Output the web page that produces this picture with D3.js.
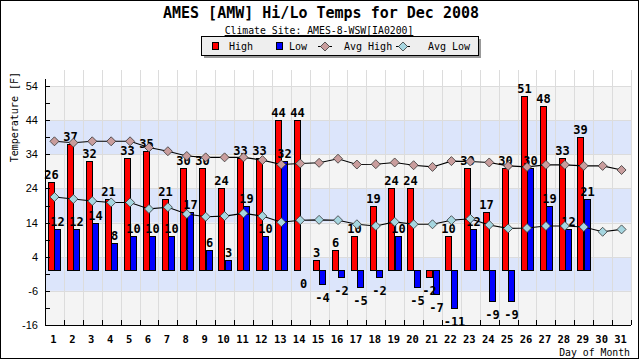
<!DOCTYPE html>
<html><head><meta charset="utf-8">
<script src="https://cdn.jsdelivr.net/npm/d3@7/dist/d3.min.js"></script>
<style>body{margin:0;background:#fff}svg{display:block}</style>
</head><body>
<svg id="c" width="640" height="360"></svg>
<script>
const days = d3.range(1, 32);
const highs = [26,37,32,21,33,35,21,30,30,24,33,33,44,44,3,6,10,19,24,24,-2,10,30,17,30,51,48,33,39,null,null];
const lows  = [12,12,14,8,10,10,10,17,6,3,19,10,32,0,-4,-2,-5,-2,10,-5,-7,-11,12,-9,-9,30,19,12,21,null,null];
const avgHigh = [37.8,37.4,37.8,37.8,37.8,36.0,34.9,33.5,33.1,33.1,33.1,32.3,31.0,31.3,31.5,32.7,31.0,31.1,31.6,30.8,30.3,32.0,31.9,31.6,30.6,30.3,30.9,30.9,30.6,30.6,29.4];
const avgLow  = [21.5,20.9,20.3,19.9,19.9,18.0,18.5,16.5,15.7,15.9,16.7,15.9,14.1,14.7,14.8,14.7,13.5,13.0,14.2,13.5,13.5,14.7,15.1,13.3,12.3,12.4,13.0,13.0,12.7,11.3,12.0];
const yTicks = [-16,-6,4,14,24,34,44,54];
const title = "AMES [AMW] Hi/Lo Temps for Dec 2008";
const subtitle = "Climate Site: AMES-8-WSW[IA0200]";
const legendLabels = ["High","Low","Avg High","Avg Low"];

const svg = d3.select("#c");
const L = 45, R = 631, T = 70, B = 325;
const x = d3.scaleBand().domain(days).range([L, R]).paddingInner(0).paddingOuter(0);
const xs = d3.scaleBand().domain(["h","l"]).range([0, x.bandwidth()]).paddingInner(0).paddingOuter(0.5);
const y = d3.scaleLinear().domain([-16, 54]).range([B, 86]);
const mono = "'DejaVu Sans Mono', monospace";
const RED = "#ff0000", BLUE = "#0000ff", AH = "#c99d9d", AL = "#a6d6e0";

// bands
const bandG = svg.append("g");
for (let i = 0; i < yTicks.length - 1; i++) {
  bandG.append("rect").attr("x", L).attr("width", R - L)
    .attr("y", y(yTicks[i+1])).attr("height", y(yTicks[i]) - y(yTicks[i+1]))
    .attr("fill", i % 2 === 0 ? "#f4f4f4" : "#dce5fb");
}
// grid
const grid = svg.append("g").attr("stroke", "#dcdcdc").attr("stroke-width", 1);
yTicks.forEach(t => grid.append("line").attr("x1", L).attr("x2", R).attr("y1", Math.round(y(t))+0.5).attr("y2", Math.round(y(t))+0.5));
days.forEach(d => {
  const xx = Math.round(x(d) + x.bandwidth()) + 0.5;
  grid.append("line").attr("x1", xx).attr("x2", xx).attr("y1", T).attr("y2", B);
});

// bars
const barG = svg.append("g").attr("stroke", "#000").attr("stroke-width", 1);
const lblG = svg.append("g").attr("font-family", mono).attr("font-weight", "bold").attr("font-size", 12).attr("text-anchor", "middle").attr("fill", "#000");
function drawBars(vals, key, color) {
  days.forEach((d, i) => {
    const v = vals[i];
    if (v === null) return;
    const x0 = Math.round(x(d) + xs(key)) + 0.5;
    const w = Math.round(xs.bandwidth());
    const y0 = Math.round(y(0)) + 0.5, y1 = Math.round(y(v)) + 0.5;
    barG.append("rect").attr("x", x0).attr("width", w)
      .attr("y", Math.min(y0, y1)).attr("height", Math.abs(y1 - y0))
      .attr("fill", color);
    const cx = x0 + w / 2;
    if (v > 0) lblG.append("text").attr("x", cx).attr("y", y1 - 4).text(v);
    else lblG.append("text").attr("x", cx).attr("y", Math.max(y1, y0) + 17).text(v);
  });
}
drawBars(highs, "h", RED);
drawBars(lows, "l", BLUE);

// avg lines
function drawAvg(vals, fill) {
  const cx = d => x(d) + x.bandwidth() / 2;
  const line = d3.line().x((v, i) => cx(days[i])).y(v => y(v));
  svg.append("path").attr("d", line(vals)).attr("fill", "none").attr("stroke", "#000").attr("stroke-width", 1.1);
  svg.append("g").selectAll("path").data(vals).join("path")
    .attr("d", (v, i) => `M${cx(days[i])},${y(v)-4.5}l4.5,4.5l-4.5,4.5l-4.5,-4.5z`)
    .attr("fill", fill).attr("stroke", "#333").attr("stroke-width", 0.8);
}
drawAvg(avgHigh, AH);
drawAvg(avgLow, AL);

// axes
const ax = svg.append("g").attr("stroke", "#000").attr("stroke-width", 1);
ax.append("line").attr("x1", L + 0.5).attr("x2", L + 0.5).attr("y1", 79).attr("y2", B + 0.5);
ax.append("line").attr("x1", L).attr("x2", R).attr("y1", B + 0.5).attr("y2", B + 0.5);
d3.range(-16, 57, 5).forEach(t => {
  const yy = Math.round(y(t)) + 0.5;
  ax.append("line").attr("x1", L).attr("x2", L + 5).attr("y1", yy).attr("y2", yy);
});
days.forEach(d => {
  const xx = Math.round(x(d) + x.bandwidth()) + 0.5;
  ax.append("line").attr("x1", xx).attr("x2", xx).attr("y1", B - 5).attr("y2", B);
});
const yl = svg.append("g").attr("font-family", "'Liberation Sans', Arial, sans-serif").attr("font-size", 11).attr("text-anchor", "end");
yTicks.forEach(t => yl.append("text").attr("x", 38).attr("y", y(t) + 4).text(t));
const xl = svg.append("g").attr("font-family", mono).attr("font-weight", "bold").attr("font-size", 10.5).attr("text-anchor", "middle");
days.forEach(d => xl.append("text").attr("x", x(d) + x.bandwidth() / 2 - 1).attr("y", 343).text(d));

svg.append("text").attr("x", 630).attr("y", 356).attr("text-anchor", "end")
  .attr("font-family", mono).attr("font-size", 9.8).text("Day of Month");
svg.append("text").attr("transform", "translate(18,72) rotate(-90)").attr("text-anchor", "end")
  .attr("font-family", mono).attr("font-size", 10).text("Temperature [F]");

// titles
svg.append("text").attr("x", 321).attr("y", 18).attr("text-anchor", "middle")
  .attr("font-family", mono).attr("font-weight", "bold").attr("font-size", 15).text(title);
svg.append("text").attr("x", 319).attr("y", 34).attr("text-anchor", "middle")
  .attr("font-family", mono).attr("font-size", 9.8).attr("text-decoration", "underline").text(subtitle);

// legend
const lg = svg.append("g");
lg.append("rect").attr("x", 204).attr("y", 39).attr("width", 277).attr("height", 19).attr("fill", "#999");
lg.append("rect").attr("x", 201.5).attr("y", 36.5).attr("width", 277).attr("height", 19).attr("fill", "#eeeeee").attr("stroke", "#000");
const lgt = lg.append("g").attr("font-family", mono).attr("font-size", 10);
lg.append("rect").attr("x", 212.5).attr("y", 42.5).attr("width", 6).attr("height", 7).attr("fill", RED).attr("stroke", "#000");
lgt.append("text").attr("x", 229).attr("y", 50).text(legendLabels[0]);
lg.append("rect").attr("x", 276.5).attr("y", 42.5).attr("width", 6).attr("height", 7).attr("fill", BLUE).attr("stroke", "#000");
lgt.append("text").attr("x", 289).attr("y", 50).text(legendLabels[1]);
[[325, AH, 344, 2], [403, AL, 428, 3]].forEach(([cx, f, tx, k]) => {
  lg.append("line").attr("x1", cx - 7).attr("x2", cx + 7).attr("y1", 46.5).attr("y2", 46.5).attr("stroke", "#000");
  lg.append("path").attr("d", `M${cx},${42}l4.5,4.5l-4.5,4.5l-4.5,-4.5z`).attr("fill", f).attr("stroke", "#333").attr("stroke-width", 0.8);
  lgt.append("text").attr("x", tx).attr("y", 50).text(legendLabels[k]);
});

// frame
svg.append("rect").attr("x", 0.5).attr("y", 0.5).attr("width", 638).attr("height", 358).attr("fill", "none").attr("stroke", "#000");
</script>
</body></html>
